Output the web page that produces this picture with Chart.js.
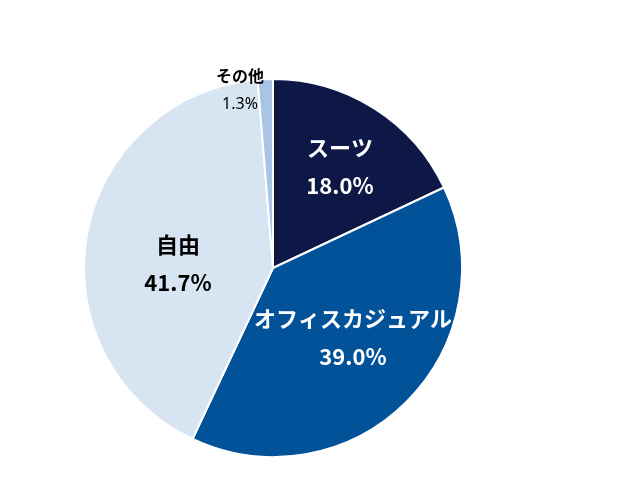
<!DOCTYPE html>
<html>
<head>
<meta charset="utf-8">
<script src="https://cdn.jsdelivr.net/npm/chart.js@4"></script>
<style>
  html, body { margin: 0; padding: 0; background: #fff; }
  .wrap { width: 637px; height: 484px; position: relative; }
</style>
</head>
<body>
<div class="wrap"><canvas id="js-pieChart"></canvas></div>
<script>
'use strict'

const categories = ['スーツ', 'オフィスカジュアル', '自由', 'その他']
const shares = [18.0, 39.0, 41.7, 1.3]

{
  const sliceColors = ['#0d1847', '#02529a', '#d7e4f1', '#a9c4e4']
  const labelColors = ['#ffffff', '#ffffff', '#000000', '#000000']
  // label offset from the pie centre, px (Excel-ish placement)
  const labelOffsets = [[67, -101], [80, 70], [-95, -4], [-33, -178]]
  const fontFamily = '"Noto Sans CJK JP", "Noto Sans", sans-serif'

  const pieLabelPlugin = {
    id: 'pieLabels',
    afterDatasetsDraw(chart) {
      const ctx = chart.ctx
      const meta = chart.getDatasetMeta(0)
      ctx.save()
      ctx.textAlign = 'center'
      ctx.textBaseline = 'middle'
      meta.data.forEach((arc, i) => {
        const x = arc.x + labelOffsets[i][0]
        const y = arc.y + labelOffsets[i][1]
        ctx.fillStyle = labelColors[i]
        if (i === 3) {
          // small slice: label sits outside the pie
          ctx.font = `bold 16px ${fontFamily}`
          ctx.fillText(categories[i], x, y - 14)
          ctx.font = `normal 400 16px "Noto Sans", "Noto Sans CJK JP", sans-serif`
          ctx.fillText(shares[i].toFixed(1) + '%', x, y + 14)
        } else {
          ctx.font = `bold 22px ${fontFamily}`
          ctx.fillText(categories[i], x, y - 19)
          ctx.fillText(shares[i].toFixed(1) + '%', x, y + 19)
        }
      })
      ctx.restore()
    }
  }

  new Chart(document.getElementById('js-pieChart'), {
    type: 'pie',
    data: {
      labels: categories,
      datasets: [{
        data: shares,
        backgroundColor: sliceColors,
        borderColor: '#ffffff',
        borderWidth: 2
      }]
    },
    options: {
      responsive: true,
      maintainAspectRatio: false,
      animation: false,
      layout: {
        padding: { left: 83, right: 174, top: 78, bottom: 26 }
      },
      plugins: {
        legend: { display: false },
        tooltip: { enabled: false }
      }
    },
    plugins: [pieLabelPlugin]
  })
}
</script>
</body>
</html>
